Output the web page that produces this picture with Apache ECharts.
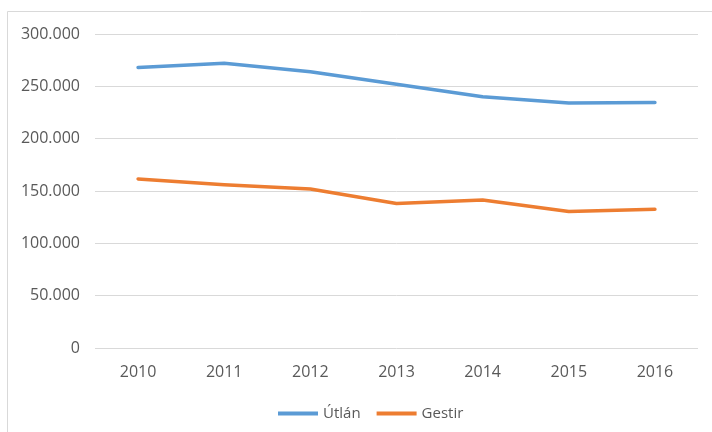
<!DOCTYPE html>
<html>
<head>
<meta charset="utf-8">
<script src="https://cdn.jsdelivr.net/npm/echarts@6/dist/echarts.min.js"></script>
<style>
  html, body { margin: 0; padding: 0; background: #fff; }
  #chart { width: 712px; height: 432px; }
</style>
</head>
<body>
<div id="chart"></div>
<script>
const years = ['2010', '2011', '2012', '2013', '2014', '2015', '2016']
const utlan = [268000, 272000, 264000, 252000, 240000, 234000, 234500]
const gestir = [161500, 156000, 152000, 138000, 141500, 130500, 132500]
const yTicks = [0, 50000, 100000, 150000, 200000, 250000, 300000]

const C = {
  blue: '#5B9BD5',
  orange: '#ED7D31',
  text: '#595959',
  grid: '#D9D9D9'
}
const FONT = '"Open Sans", "Liberation Sans", sans-serif'

// Hungarian thousands separator: 300.000
const fmt = (v) => (v === 0 ? '0' : String(v).replace(/\B(?=(\d{3})+(?!\d))/g, '.'))

const chart = echarts.init(document.getElementById('chart'))
chart.setOption({
  animation: false,
  backgroundColor: '#fff',
  textStyle: { fontFamily: FONT },
  // outer chart-area frame, runs off the right and bottom edges
  graphic: [{
    type: 'rect',
    shape: { x: 7.5, y: 11.5, width: 720, height: 440 },
    style: { fill: 'none', stroke: C.grid, lineWidth: 1 },
    silent: true
  }],
  grid: { left: 95, right: 14, top: 34, bottom: 84 },
  legend: {
    top: 401,
    left: 273,
    itemWidth: 40,
    itemHeight: 4,
    itemGap: 16,
    icon: 'rect',
    textStyle: { color: C.text, fontSize: 15, fontFamily: FONT },
    data: ['Útlán', 'Gestir']
  },
  xAxis: {
    type: 'category',
    data: years,
    boundaryGap: true,
    axisLine: { show: false },
    axisTick: { show: false },
    axisLabel: { color: C.text, fontSize: 16, margin: 16 }
  },
  yAxis: {
    type: 'value',
    min: yTicks[0],
    max: yTicks[yTicks.length - 1],
    interval: yTicks[1] - yTicks[0],
    axisLine: { show: false },
    axisTick: { show: false },
    axisLabel: { color: C.text, fontSize: 16, margin: 15, formatter: fmt },
    splitLine: { lineStyle: { color: C.grid, width: 1 } }
  },
  series: [
    {
      name: 'Útlán',
      type: 'line',
      data: utlan,
      showSymbol: false,
      symbol: 'none',
      lineStyle: { color: C.blue, width: 3.5, cap: 'round', join: 'round' },
      itemStyle: { color: C.blue }
    },
    {
      name: 'Gestir',
      type: 'line',
      data: gestir,
      showSymbol: false,
      symbol: 'none',
      lineStyle: { color: C.orange, width: 3.5, cap: 'round', join: 'round' },
      itemStyle: { color: C.orange }
    }
  ]
})
</script>
</body>
</html>
